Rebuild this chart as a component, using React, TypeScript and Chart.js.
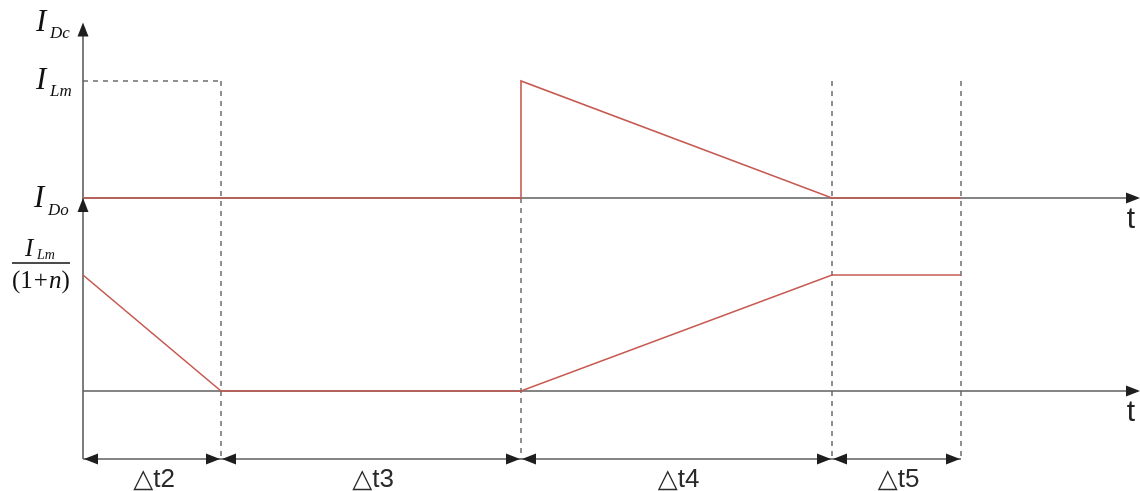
import React, { useEffect, useRef } from "react";
import { Chart, registerables } from "chart.js";

Chart.register(...registerables);

// Switching instants (time units) that bound the intervals Δt2..Δt5
const switchTimes = [0, 1.38, 4.38, 7.49, 8.78];
const intervalLabels = ["△t2", "△t3", "△t4", "△t5"];

// Upper trace: I_Dc, in units of I_Lm
const upperTimes = [0, 4.38, 4.38, 7.49, 8.78];
const upperCurrent = [0, 0, 1, 0, 0];

// Lower trace: I_Do, in units of I_Lm/(1+n)
const lowerTimes = [0, 1.38, 4.38, 7.49, 8.78];
const lowerCurrent = [1, 0, 0, 1, 1];

const TIME_MAX = 10.55;
const AREA_TOP = 20;
const AREA_BOTTOM = 470;
const W = 1140;
const H = 491;

// value 0 sits at pixel p0 and value 1 at pixel p1
function rangeFor(p0: number, p1: number) {
  const k = p0 - p1;
  return { min: -(AREA_BOTTOM - p0) / k, max: (p0 - AREA_TOP) / k };
}

const topRange = rangeFor(198, 81);
const botRange = rangeFor(391, 275);
const TOP_ARROW_LEVEL = 1.5; // on the upper scale
const DIM_LEVEL = -0.586; // dimension line, on the lower scale

const RED = "#c65a52";
const AXIS = "#5e5e5e";
const DARK = "#1e1e1e";

function arrowHead(ctx: CanvasRenderingContext2D, x: number, y: number, dir: "up" | "left" | "right", len = 14, half = 5.5) {
  ctx.beginPath();
  if (dir === "up") {
    ctx.moveTo(x, y);
    ctx.lineTo(x - half, y + len);
    ctx.lineTo(x + half, y + len);
  } else if (dir === "left") {
    ctx.moveTo(x, y);
    ctx.lineTo(x + len, y - half);
    ctx.lineTo(x + len, y + half);
  } else {
    ctx.moveTo(x, y);
    ctx.lineTo(x - len, y - half);
    ctx.lineTo(x - len, y + half);
  }
  ctx.closePath();
  ctx.fillStyle = DARK;
  ctx.fill();
}

function symbol(ctx: CanvasRenderingContext2D, x: number, baseI: number, sub: string, baseSub: number) {
  ctx.fillStyle = "#111";
  ctx.textAlign = "left";
  ctx.textBaseline = "alphabetic";
  ctx.font = 'italic 31px "Liberation Serif"';
  ctx.fillText("I", x, baseI);
  ctx.font = 'italic 17px "Liberation Serif"';
  ctx.fillText(sub, x + 14, baseSub);
}

const diagramPlugin = {
  id: "diagram",
  beforeDatasetsDraw(chart: any) {
    const ctx: CanvasRenderingContext2D = chart.ctx;
    const xs = chart.scales.x;
    const yt = chart.scales.yTop;
    const yb = chart.scales.yBot;
    const x0 = xs.getPixelForValue(0);
    const yTop0 = yt.getPixelForValue(0);
    const yTop1 = yt.getPixelForValue(1);
    const yBot0 = yb.getPixelForValue(0);
    const yDim = yb.getPixelForValue(DIM_LEVEL);
    const yArrow = yt.getPixelForValue(TOP_ARROW_LEVEL);

    ctx.save();
    // dashed guides
    ctx.strokeStyle = "#555";
    ctx.lineWidth = 1.3;
    ctx.setLineDash([5, 5]);
    ctx.beginPath();
    ctx.moveTo(x0, yTop1);
    ctx.lineTo(xs.getPixelForValue(switchTimes[1]), yTop1);
    ctx.stroke();
    switchTimes.slice(1).forEach((t, i) => {
      const px = xs.getPixelForValue(t);
      const startY = i === 1 ? yTop0 : yTop1;
      ctx.beginPath();
      ctx.moveTo(px, startY);
      ctx.lineTo(px, yDim);
      ctx.stroke();
    });
    ctx.setLineDash([]);

    // axes
    ctx.strokeStyle = AXIS;
    ctx.lineWidth = 1.6;
    ctx.beginPath();
    ctx.moveTo(x0, yArrow + 4);
    ctx.lineTo(x0, yDim);
    ctx.moveTo(x0, yTop0);
    ctx.lineTo(W - 6, yTop0);
    ctx.moveTo(x0, yBot0);
    ctx.lineTo(W - 6, yBot0);
    // dimension line
    const last = xs.getPixelForValue(switchTimes[switchTimes.length - 1]);
    ctx.moveTo(x0, yDim);
    ctx.lineTo(last, yDim);
    ctx.stroke();
    ctx.restore();
  },
  afterDatasetsDraw(chart: any) {
    const ctx: CanvasRenderingContext2D = chart.ctx;
    const xs = chart.scales.x;
    const yt = chart.scales.yTop;
    const yb = chart.scales.yBot;
    const x0 = xs.getPixelForValue(0);
    const yTop0 = yt.getPixelForValue(0);
    const yTop1 = yt.getPixelForValue(1);
    const yBot0 = yb.getPixelForValue(0);
    const yBot1 = yb.getPixelForValue(1);
    const yDim = yb.getPixelForValue(DIM_LEVEL);
    const yArrow = yt.getPixelForValue(TOP_ARROW_LEVEL);

    ctx.save();
    // arrowheads on the axes
    arrowHead(ctx, x0, yArrow, "up");
    arrowHead(ctx, x0, yTop0, "up");
    arrowHead(ctx, W, yTop0, "right");
    arrowHead(ctx, W, yBot0, "right");

    // dimension arrows and interval names
    for (let i = 0; i < intervalLabels.length; i++) {
      const a = xs.getPixelForValue(switchTimes[i]);
      const b = xs.getPixelForValue(switchTimes[i + 1]);
      arrowHead(ctx, a + 1, yDim, "left", 14, 5.5);
      arrowHead(ctx, b - 1, yDim, "right", 14, 5.5);
      ctx.fillStyle = "#2a2a2a";
      ctx.font = '26px "Liberation Sans", "DejaVu Sans"';
      ctx.textAlign = "center";
      ctx.textBaseline = "alphabetic";
      ctx.fillText(intervalLabels[i], (a + b) / 2 + 2, yDim + 28);
    }

    // time axis names
    ctx.fillStyle = "#222";
    ctx.font = '30px "Liberation Sans"';
    ctx.textAlign = "center";
    ctx.fillText("t", W - 9, yTop0 + 30);
    ctx.fillText("t", W - 9, yBot0 + 30);

    // current symbols
    symbol(ctx, x0 - 47, yArrow + 8, "Dc", yArrow + 15);
    symbol(ctx, x0 - 47, yTop1 + 8, "Lm", yTop1 + 15);
    symbol(ctx, x0 - 49, yTop0 + 9, "Do", yTop0 + 17);

    // I_Lm / (1 + n)
    const barY = yBot1 - 12;
    const left = x0 - 71;
    const right = x0 - 13;
    ctx.strokeStyle = "#111";
    ctx.lineWidth = 1.4;
    ctx.beginPath();
    ctx.moveTo(left, barY);
    ctx.lineTo(right, barY);
    ctx.stroke();
    ctx.fillStyle = "#111";
    ctx.textAlign = "left";
    ctx.font = 'italic 25px "Liberation Serif"';
    ctx.fillText("I", left + 13, barY - 7);
    ctx.font = 'italic 14px "Liberation Serif"';
    ctx.fillText("Lm", left + 25, barY - 4);
    let cx = left;
    const y2 = barY + 25;
    const parts: [string, string][] = [["(", ""], ["1", ""], ["+", ""], ["n", "italic "], [")", ""]];
    parts.forEach(([s, style], i) => {
      ctx.font = style + '25px "Liberation Serif"';
      ctx.fillText(s, cx, y2);
      cx += ctx.measureText(s).width + (i === 1 || i === 2 ? 1 : 0);
    });
    ctx.restore();
  },
};

export default function App() {
  const ref = useRef<HTMLCanvasElement | null>(null);

  useEffect(() => {
    if (!ref.current) return;
    const chart = new Chart(ref.current, {
      type: "scatter",
      data: {
        datasets: [
          {
            label: "I_Dc",
            data: upperTimes.map((t, i) => ({ x: t, y: upperCurrent[i] })),
            yAxisID: "yTop",
            showLine: true,
            borderColor: RED,
            borderWidth: 1.6,
            pointRadius: 0,
            tension: 0,
          },
          {
            label: "I_Do",
            data: lowerTimes.map((t, i) => ({ x: t, y: lowerCurrent[i] })),
            yAxisID: "yBot",
            showLine: true,
            borderColor: RED,
            borderWidth: 1.6,
            pointRadius: 0,
            tension: 0,
          },
        ],
      },
      options: {
        animation: false,
        responsive: false,
        devicePixelRatio: 1,
        layout: { padding: { left: 83, right: 2, top: AREA_TOP, bottom: H - AREA_BOTTOM } },
        plugins: { legend: { display: false }, tooltip: { enabled: false } },
        scales: {
          x: { type: "linear", min: 0, max: TIME_MAX, display: false },
          yTop: { type: "linear", position: "left", min: topRange.min, max: topRange.max, display: false },
          yBot: { type: "linear", position: "left", min: botRange.min, max: botRange.max, display: false },
        },
      },
      plugins: [diagramPlugin],
    });
    return () => chart.destroy();
  }, []);

  return (
    <div style={{ position: "absolute", left: 0, top: 0, width: W, height: H, background: "#fff" }}>
      <canvas ref={ref} width={W} height={H} />
    </div>
  );
}
